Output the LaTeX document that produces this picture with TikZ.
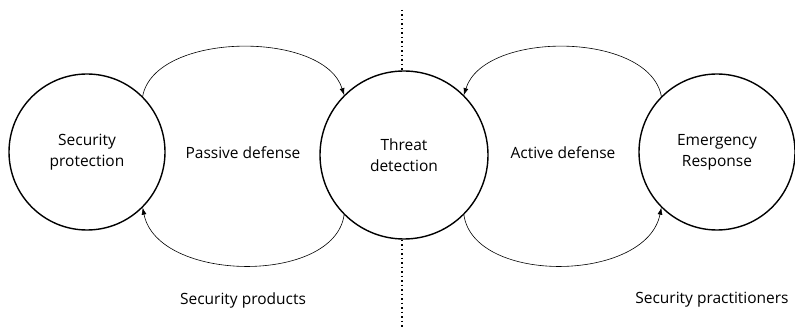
\documentclass[tikz,border=0pt]{standalone}
\usepackage{fontspec}
\setmainfont{Open Sans}
\tikzset{
  phase/.style={draw, circle, line width=1.4pt, align=center, inner sep=0pt,
    font=\fontsize{15.5}{21}\selectfont},
  loop/.style={-{Latex[length=7pt,width=5pt]}, line width=0.6pt},
  lbl/.style={font=\fontsize{15.5}{21}\selectfont}
}
\usetikzlibrary{arrows.meta}

\begin{document}
\begin{tikzpicture}[x=1pt,y=1pt]
  \useasboundingbox (0,0) rectangle (795,327) ;
  % the three phases
  \node[phase, minimum size=156pt] (sp) at (87,175) {Security\\protection} ;
  \node[phase, minimum size=168pt] (td) at (404,172) {Threat\\detection} ;
  \node[phase, minimum size=156pt] (er) at (717,175) {Emergency\\Response} ;
  \node[lbl] (pd) at (243,174) {Passive defense} ;
  \node[lbl] (ad) at (563,174) {Active defense} ;
  \node[lbl] (prod) at (243,27) {Security products} ;
  \node[lbl] (prac) at (712,27) {Security practitioners} ;
  % dividing line
  \coordinate (top) at (402,317) ;
  \coordinate (bot) at (402,0) ;
  \draw[line width=1.2pt, dash pattern=on 1.3pt off 3.2pt] (top) -- (top |- td.north) ;
  \draw[line width=1.2pt, dash pattern=on 1.3pt off 3.2pt] (bot |- td.south) -- (bot) ;
  % loops
  \draw[loop] (sp.45) .. controls +(12,65) and +(-20,65) .. (td.135) ;
  \draw[loop] (td.225) .. controls +(-10,-70) and +(15,-75) .. (sp.-45) ;
  \draw[loop] (er.135) .. controls +(-12,65) and +(20,65) .. (td.45) ;
  \draw[loop] (td.-45) .. controls +(10,-70) and +(-15,-75) .. (er.225) ;
\end{tikzpicture}
\end{document}
